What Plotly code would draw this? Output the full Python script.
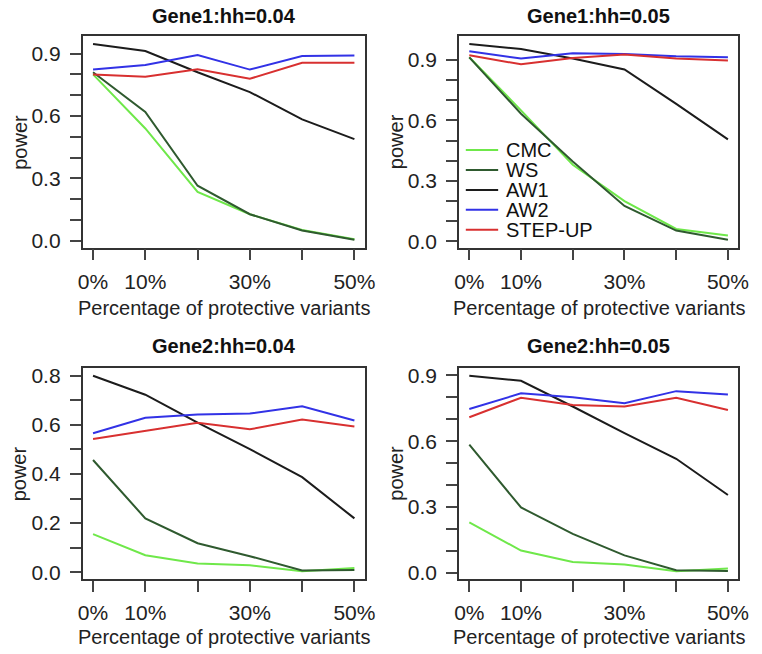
import plotly.graph_objects as go

# x: percentage of protective variants
pct = [0, 10, 20, 30, 40, 50]
pct_text = ['0%', '10%', '', '30%', '', '50%']

methods = ['CMC', 'WS', 'AW1', 'AW2', 'STEP-UP']
colores = {'CMC': '#6fe84a', 'WS': '#2f5a2f', 'AW1': '#1c1c1c',
           'AW2': '#3232e6', 'STEP-UP': '#d83030'}

# power values
gene1_hh004 = {
    'CMC':     [0.80, 0.54, 0.235, 0.128, 0.052, 0.008],
    'WS':      [0.81, 0.62, 0.265, 0.128, 0.050, 0.005],
    'AW1':     [0.946, 0.912, 0.81, 0.715, 0.584, 0.489],
    'AW2':     [0.823, 0.845, 0.893, 0.823, 0.888, 0.891],
    'STEP-UP': [0.80, 0.789, 0.825, 0.779, 0.856, 0.856],
}
gene1_hh005 = {
    'CMC':     [0.913, 0.65, 0.38, 0.20, 0.062, 0.029],
    'WS':      [0.913, 0.633, 0.396, 0.176, 0.054, 0.008],
    'AW1':     [0.979, 0.954, 0.907, 0.853, 0.682, 0.506],
    'AW2':     [0.943, 0.907, 0.933, 0.93, 0.918, 0.913],
    'STEP-UP': [0.923, 0.878, 0.91, 0.927, 0.907, 0.897],
}
gene2_hh004 = {
    'CMC':     [0.155, 0.069, 0.035, 0.028, 0.004, 0.017],
    'WS':      [0.457, 0.219, 0.118, 0.065, 0.007, 0.009],
    'AW1':     [0.80, 0.723, 0.609, 0.501, 0.387, 0.219],
    'AW2':     [0.566, 0.629, 0.642, 0.646, 0.676, 0.618],
    'STEP-UP': [0.542, 0.575, 0.609, 0.582, 0.622, 0.593],
}
gene2_hh005 = {
    'CMC':     [0.23, 0.102, 0.05, 0.038, 0.008, 0.02],
    'WS':      [0.584, 0.298, 0.178, 0.08, 0.012, 0.009],
    'AW1':     [0.898, 0.875, 0.758, 0.637, 0.52, 0.355],
    'AW2':     [0.747, 0.818, 0.80, 0.773, 0.828, 0.813],
    'STEP-UP': [0.709, 0.798, 0.765, 0.758, 0.798, 0.742],
}

paneles = [
    ('Gene1:hh=0.04', gene1_hh004, 10, 3),
    ('Gene1:hh=0.05', gene1_hh005, 10, 3),
    ('Gene2:hh=0.04', gene2_hh004, 9, 2),
    ('Gene2:hh=0.05', gene2_hh005, 10, 3),
]

# the page body has an 8px margin, so the figure is drawn 8px in
OFF = 8
W, H = 762 - OFF, 654 - OFF


def px(x):
    return (x - OFF) / W


def py(y):
    return 1 - (y - OFF) / H


# window pixel boxes of each panel: x0, x1, ytop, ybottom, title gap, xtitle gap
cajas = [(79, 367, 32.5, 247, 20, 61), (463, 748, 32.5, 247, 20, 61),
         (79, 367, 369, 583, 22, 59), (463, 748, 369, 583, 22, 59)]

fuente = 'Liberation Sans, Arial, Helvetica, sans-serif'
fig = go.Figure()
anots = []


def texto(t, x, y, size, xanchor='center', angle=0, color='#222222'):
    return dict(text=t, x=px(x), y=py(y), xref='paper', yref='paper',
                xanchor=xanchor, yanchor='middle', showarrow=False,
                textangle=angle, font=dict(family=fuente, size=size, color=color))


for i, (titulo, datos, nticks, paso) in enumerate(paneles):
    n = i + 1
    xa = 'x' if n == 1 else f'x{n}'
    ya = 'y' if n == 1 else f'y{n}'
    for m in methods:
        fig.add_trace(go.Scatter(
            x=pct, y=datos[m], mode='lines', name=m, xaxis=xa, yaxis=ya,
            line=dict(color=colores[m], width=2), showlegend=False))

    # R style range: data range extended by 4%
    todos = [v for m in methods for v in datos[m]]
    lo, hi = min(todos), max(todos)
    r = hi - lo
    yrange = [lo - 0.04 * r, hi + 0.04 * r]

    yvals = [round(k * 0.1, 1) for k in range(nticks)]
    ytext = [f'{v:.1f}' if k % paso == 0 else '' for k, v in enumerate(yvals)]

    x0, x1, yt, yb, gt, gx = cajas[i]
    eje = dict(showline=True, mirror=True, linecolor='#333333', linewidth=1.5,
               ticks='outside', ticklen=11, tickwidth=1.5, tickcolor='#444444',
               showgrid=False, zeroline=False,
               tickfont=dict(family=fuente, size=21, color='#222222'))
    fig.layout[f'xaxis{n if n > 1 else ""}'] = dict(
        eje, domain=[px(x0), px(x1)], anchor=ya, range=[-2, 52],
        tickvals=pct, ticktext=pct_text, ticklabelstandoff=3)
    fig.layout[f'yaxis{n if n > 1 else ""}'] = dict(
        eje, domain=[py(yb), py(yt)], anchor=xa, range=yrange,
        tickvals=yvals, ticktext=ytext, ticklabelstandoff=5)

    cx = (x0 + x1) / 2
    anots.append(texto(f'<b>{titulo}</b>', cx, yt - gt, 20, color='#111111'))
    anots.append(texto('Percentage of protective variants', cx, yb + gx, 20))
    anots.append(texto('power', x0 - 64, (yt + yb) / 2, 20, angle=-90))

# legend drawn by hand inside the Gene1:hh=0.05 panel
shapes = []
for k, m in enumerate(methods):
    yy = 148 + k * 20.2
    shapes.append(dict(type='line', xref='paper', yref='paper',
                       x0=px(470), x1=px(503), y0=py(yy), y1=py(yy),
                       line=dict(color=colores[m], width=2)))
    anots.append(texto(m, 509, yy, 20, xanchor='left', color='#111111'))

fig.update_layout(
    width=W, height=H, margin=dict(l=0, r=0, t=0, b=0),
    paper_bgcolor='white', plot_bgcolor='white',
    annotations=anots, shapes=shapes, showlegend=False)

fig.write_html('out.html')
